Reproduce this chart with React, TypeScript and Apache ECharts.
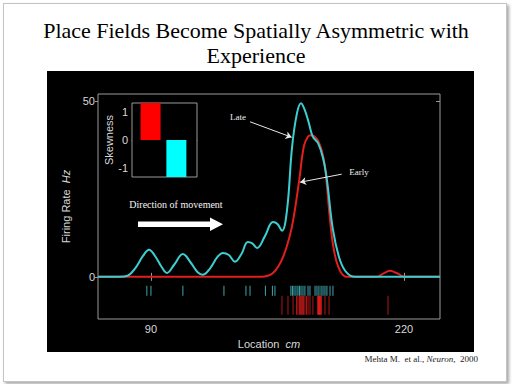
import React, { useEffect, useRef } from "react";
import * as echarts from "echarts";

// Late (cyan) firing-rate curve: [location cm, rate Hz]
const lateCurve: number[][] = [
  [62.8, 0], [74, 0], [78, 0.3], [82, 2.5], [86, 6], [89, 7.7], [92, 6], [95.5, 2.8], [98.2, 1.1],
  [102, 3.5], [106.4, 6.5], [110.5, 4], [114, 1.3], [116.7, 0.6], [120.5, 2.5], [124, 5.5], [127, 6.8],
  [130, 6.2], [133.2, 4.3], [136.5, 6.5], [139.8, 9.9], [142, 9.5], [144.5, 8.2], [148.5, 11.5],
  [152.7, 15.6], [155, 15], [157.3, 13.1], [159.9, 19], [162.5, 36.9], [165, 46.5], [167.1, 49.4],
  [169, 47.5], [171, 44], [173.2, 39.8], [175.8, 38.1], [178.4, 33.8], [180.4, 27.6], [183.5, 13.4],
  [187.1, 4.8], [190.7, 1.1], [194.8, 0], [238.5, 0],
];

// Early (red) firing-rate curve
const earlyCurve: number[][] = [
  [62.8, 0], [147, 0], [150, 0.3], [152.7, 1.1], [155.5, 3], [158, 5.8], [161, 11], [163.1, 16.2],
  [166.2, 27.6], [168.6, 37.2], [170.8, 40], [172.2, 40.3], [175.1, 39.3], [177.7, 36], [179.4, 31.3],
  [180.6, 24.7], [182, 16.2], [183.7, 8.6], [186.2, 2.9], [189.7, 0.1], [192, 0], [206, 0],
  [209.5, 1], [212.8, 1.7], [216.5, 1], [220.5, 0], [238.5, 0],
];

// Spike rasters (location cm)
const lateSpikes: number[] = [
  87.9, 90.0, 106.4, 127.5, 138.8, 140.9, 148.8, 152.4, 153.7, 161.9, 162.7, 163.5, 164.5, 165.5,
  166.3, 167.1, 168.1, 169.1, 170.7, 171.7, 174.3, 175.3, 176.3, 177.4, 178.4, 179.4, 180.4, 182.0, 183.5,
];
const earlySpikes: number[] = [
  157.3, 160.4, 163.0, 164.8, 165.5, 166.3, 166.8, 167.3, 167.9, 168.4, 169.1, 169.9, 170.7, 171.7,
  173.2, 179.4, 181.5, 211.8,
];
const earlyBrightSpikes: number[] = [175.8, 176.3, 176.8, 177.4];
const lateSpikeRow = -3.98;
const earlySpikeRow = -8.1;

// Inset skewness
const skewPositions: number[] = [1, 2];
const skewValues: number[] = [1.3, -1.3];

const xTicks: number[] = [90, 220];
const yTicks: number[] = [0, 50];
const insetTicks: number[] = [-1, 0, 1];

// Annotation arrows [from, to] in data coords
const lateArrow: number[][] = [[140.9, 44.1], [162.3, 39.7]];
const earlyArrow: number[][] = [[188.0, 29.2], [166.6, 26.9]];

const RED = "#e31e1e";
const CYAN = "#3ccfd2";
const AXIS_TEXT = "#d8d8d8";
const FRAME = "#9a9a9a";

export default function App() {
  const ref = useRef<HTMLDivElement>(null);
  useEffect(() => {
    document.body.style.margin = "0";
    const chart = echarts.init(ref.current!, null, { renderer: "svg" });
    const sans = "Liberation Sans";
    const serif = "Liberation Serif";
    chart.setOption({
      animation: false,
      backgroundColor: "transparent",
      grid: [
        { left: 98, top: 94, width: 342, height: 225, show: true, borderColor: FRAME, borderWidth: 1, backgroundColor: "transparent" },
        { left: 132, top: 103, width: 65, height: 74, show: true, borderColor: FRAME, borderWidth: 1, backgroundColor: "#000", z: 5 },
      ],
      xAxis: [
        {
          type: "value", gridIndex: 0, min: 62.8, max: 238.5, position: "bottom",
          axisLine: { show: false }, splitLine: { show: false },
          axisTick: { show: true, inside: true, length: 4, customValues: xTicks, lineStyle: { color: FRAME } },
          axisLabel: { customValues: xTicks, color: AXIS_TEXT, fontFamily: sans, fontSize: 11, margin: 4 },
          name: "{a|Location  }{b|cm}", nameLocation: "middle", nameGap: 19,
          nameTextStyle: {
            rich: {
              a: { color: AXIS_TEXT, fontFamily: sans, fontSize: 11 },
              b: { color: AXIS_TEXT, fontFamily: sans, fontSize: 11, fontStyle: "italic" },
            },
          },
        },
        {
          type: "value", gridIndex: 0, min: 62.8, max: 238.5, position: "top",
          axisLine: { show: false }, splitLine: { show: false }, axisLabel: { show: false },
          axisTick: { show: true, inside: true, length: 4, customValues: xTicks, lineStyle: { color: FRAME } },
        },
        {
          type: "value", gridIndex: 1, min: 0.28, max: 2.8,
          axisLine: { show: true, onZero: true, lineStyle: { color: FRAME, width: 1 } },
          splitLine: { show: false }, axisLabel: { show: false }, axisTick: { show: false },
        },
      ],
      yAxis: [
        {
          type: "value", gridIndex: 0, min: -12, max: 52, position: "left",
          axisLine: { show: false }, splitLine: { show: false },
          axisTick: { show: true, inside: false, length: 3, customValues: yTicks, lineStyle: { color: FRAME } },
          axisLabel: { customValues: yTicks, color: AXIS_TEXT, fontFamily: sans, fontSize: 11, margin: 3 },
          name: "{a|Firing Rate  }{b|Hz}", nameLocation: "middle", nameGap: 20, nameRotate: 90,
          nameTextStyle: {
            rich: {
              a: { color: AXIS_TEXT, fontFamily: sans, fontSize: 11 },
              b: { color: AXIS_TEXT, fontFamily: sans, fontSize: 11, fontStyle: "italic" },
            },
          },
        },
        {
          type: "value", gridIndex: 0, min: -12, max: 52, position: "right",
          axisLine: { show: false }, splitLine: { show: false }, axisLabel: { show: false },
          axisTick: { show: true, inside: true, length: 4, customValues: [50], lineStyle: { color: FRAME } },
        },
        {
          type: "value", gridIndex: 1, min: -1.3, max: 1.3, position: "left",
          axisLine: { show: false }, splitLine: { show: false },
          axisTick: { show: true, inside: true, length: 3, customValues: insetTicks, lineStyle: { color: FRAME } },
          axisLabel: { customValues: insetTicks, color: AXIS_TEXT, fontFamily: sans, fontSize: 11, margin: 4 },
          name: "Skewness", nameLocation: "middle", nameGap: 17, nameRotate: 90,
          nameTextStyle: { color: AXIS_TEXT, fontFamily: sans, fontSize: 11 },
        },
        {
          type: "value", gridIndex: 1, min: -1.3, max: 1.3, position: "right",
          axisLine: { show: false }, splitLine: { show: false }, axisLabel: { show: false },
          axisTick: { show: true, inside: true, length: 3, customValues: insetTicks, lineStyle: { color: FRAME } },
        },
      ],
      series: [
        {
          type: "line", name: "Early", xAxisIndex: 0, yAxisIndex: 0, data: earlyCurve, smooth: 0.4,
          showSymbol: false, symbol: "none", lineStyle: { color: RED, width: 2 }, z: 2,
          markLine: {
            silent: true, symbol: ["none", "arrow"], symbolSize: 6,
            lineStyle: { color: "#e8e8e8", width: 1, type: "solid" }, label: { show: false },
            data: [[{ coord: earlyArrow[0] }, { coord: earlyArrow[1] }]],
          },
        },
        {
          type: "line", name: "Late", xAxisIndex: 0, yAxisIndex: 0, data: lateCurve, smooth: 0.4,
          showSymbol: false, symbol: "none", lineStyle: { color: CYAN, width: 2 }, z: 3,
          markLine: {
            silent: true, symbol: ["none", "arrow"], symbolSize: 6,
            lineStyle: { color: "#e8e8e8", width: 1, type: "solid" }, label: { show: false },
            data: [[{ coord: lateArrow[0] }, { coord: lateArrow[1] }]],
          },
        },
        {
          type: "scatter", xAxisIndex: 0, yAxisIndex: 0, symbol: "rect", symbolSize: [1, 10],
          data: lateSpikes.map((x) => [x, lateSpikeRow]), itemStyle: { color: "#45b8c0", opacity: 0.9 },
        },
        {
          type: "scatter", xAxisIndex: 0, yAxisIndex: 0, symbol: "rect", symbolSize: [1, 19],
          data: earlySpikes.map((x) => [x, earlySpikeRow]), itemStyle: { color: "#c01a1a", opacity: 0.9 },
        },
        {
          type: "scatter", xAxisIndex: 0, yAxisIndex: 0, symbol: "rect", symbolSize: [1.5, 19],
          data: earlyBrightSpikes.map((x) => [x, earlySpikeRow]), itemStyle: { color: "#ff2020" },
        },
        {
          type: "bar", xAxisIndex: 2, yAxisIndex: 2, barWidth: 20, z: 6,
          data: skewPositions.map((p, i) => ({
            value: [p, skewValues[i]],
            itemStyle: { color: skewValues[i] > 0 ? "#ff0000" : "#00ffff" },
          })),
        },
      ],
      graphic: [
        {
          type: "text", x: 256, y: 31, scaleX: 1.1, z: 10,
          style: {
            text: "Place Fields Become Spatially Asymmetric with", fill: "#000", font: `20px "${serif}"`,
            align: "center", verticalAlign: "middle",
          },
        },
        {
          type: "text", x: 256, y: 56, scaleX: 1.1, z: 10,
          style: { text: "Experience", fill: "#000", font: `20px "${serif}"`, align: "center", verticalAlign: "middle" },
        },
        {
          type: "text", x: 238, y: 117, z: 10,
          style: { text: "Late", fill: "#f0f0f0", font: `9px "${serif}"`, align: "center", verticalAlign: "middle" },
        },
        {
          type: "text", x: 359, y: 172, z: 10,
          style: { text: "Early", fill: "#f0f0f0", font: `9px "${serif}"`, align: "center", verticalAlign: "middle" },
        },
        {
          type: "text", x: 176, y: 204, z: 10,
          style: { text: "Direction of movement", fill: "#f5f5f5", font: `10px "${serif}"`, align: "center", verticalAlign: "middle" },
        },
        { type: "rect", z: 10, shape: { x: 138, y: 221.5, width: 73, height: 5.5 }, style: { fill: "#fff" } },
        { type: "polygon", z: 10, shape: { points: [[210, 217.5], [223, 224.2], [210, 231]] }, style: { fill: "#fff" } },
        {
          type: "text", right: 34, top: 354, z: 10,
          style: {
            text: "{a|Mehta M.  et al., }{b|Neuron}{a|,  2000}",
            rich: {
              a: { fill: "#222", font: `9px "${serif}"` },
              b: { fill: "#222", font: `italic 9px "${serif}"` },
            },
          },
        },
      ],
    });
    return () => chart.dispose();
  }, []);

  return (
    <div style={{ position: "fixed", left: 0, top: 0, width: 512, height: 384, background: "#fff" }}>
      <div
        style={{
          position: "absolute", left: 3, top: 3, width: 502, height: 377,
          border: "1px solid #c4c4c4", boxShadow: "2px 2px 3px rgba(0,0,0,0.35)", background: "#fff",
        }}
      />
      <div style={{ position: "absolute", left: 47, top: 71, width: 427, height: 281, background: "#000" }} />
      <div ref={ref} style={{ position: "absolute", left: 0, top: 0, width: 512, height: 384 }} />
    </div>
  );
}
